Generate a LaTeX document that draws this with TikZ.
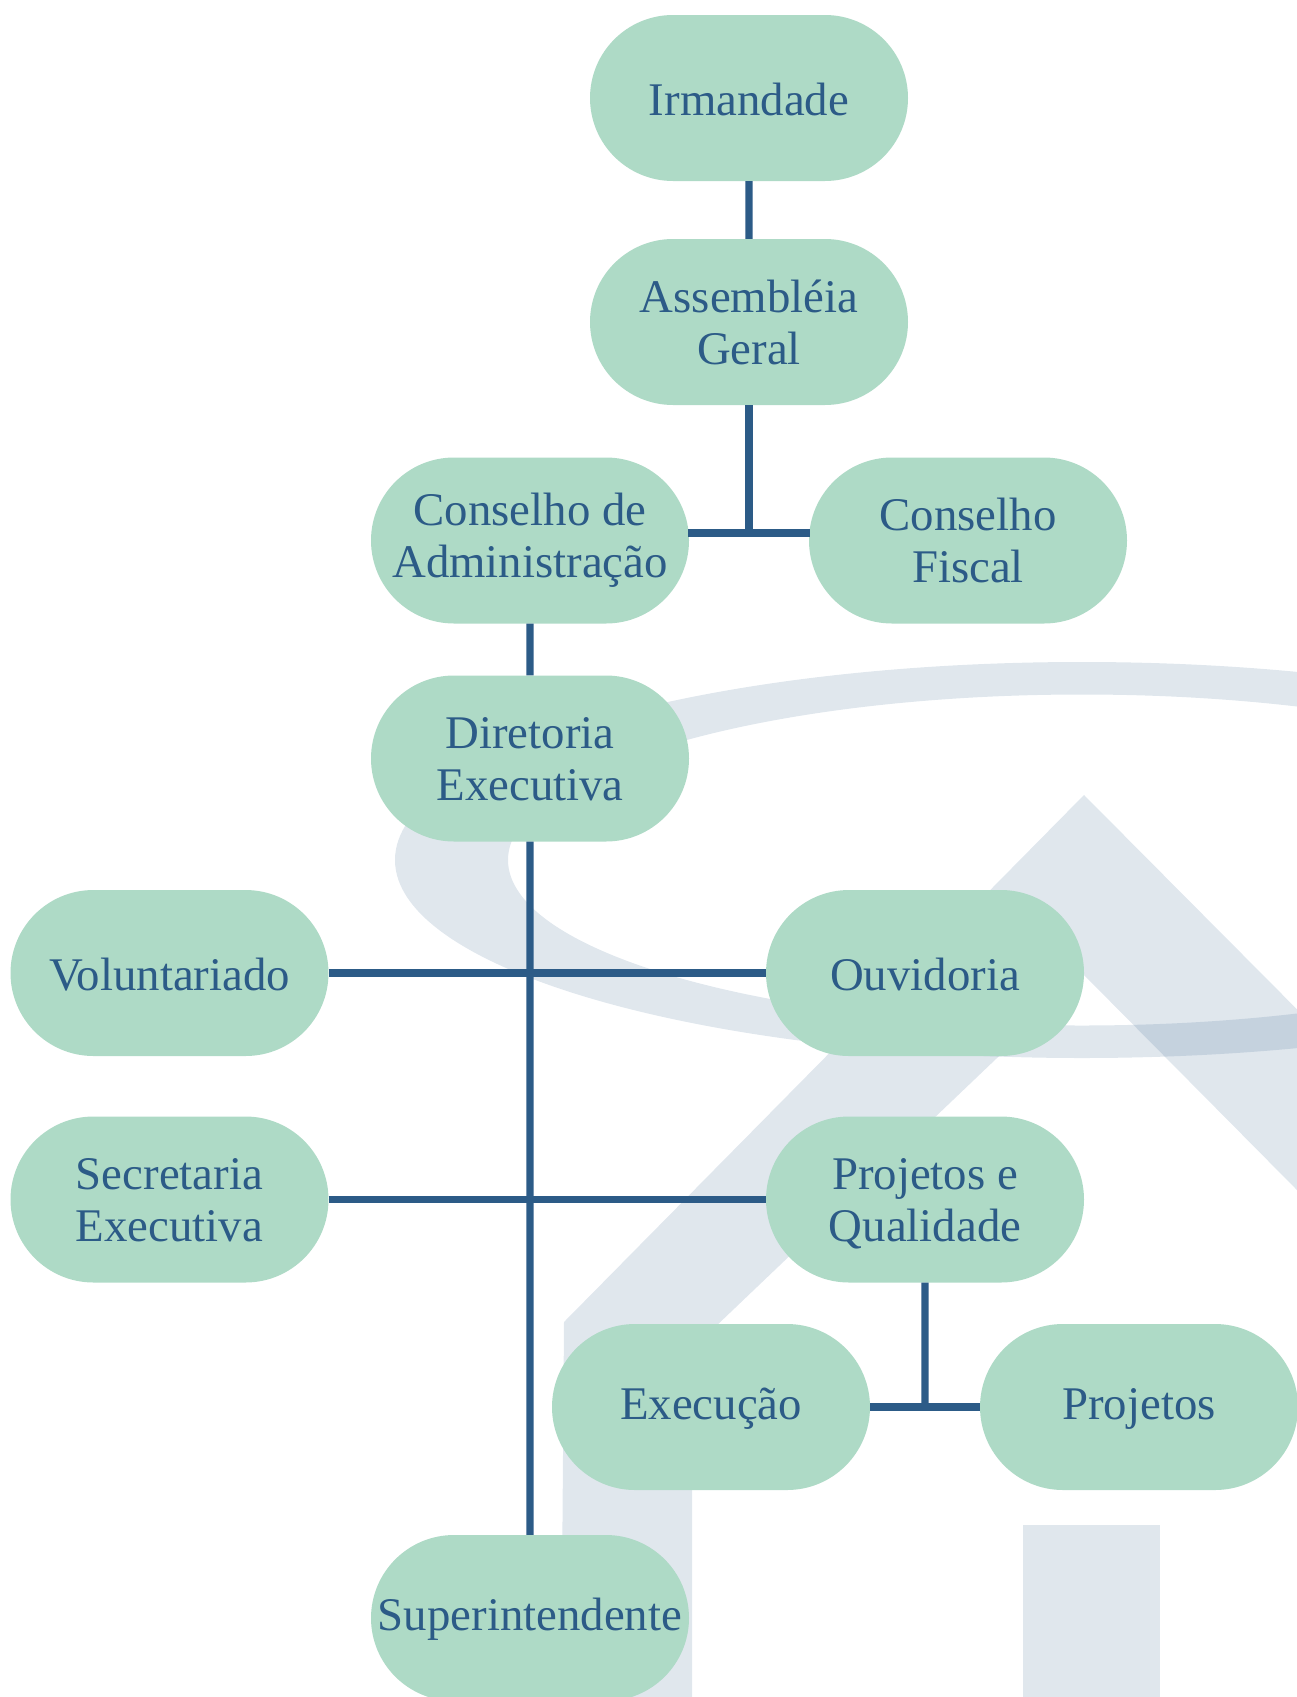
\documentclass[tikz,border=0pt]{standalone}
\usepackage{fontspec}
\setmainfont{Liberation Serif}
\usetikzlibrary{positioning,shapes.misc}
\definecolor{azul}{HTML}{2C5B87}
\definecolor{verde}{HTML}{AEDAC6}

\begin{document}
\begin{tikzpicture}[x=1pt,y=1pt,node distance=224pt,
    caixa/.style={rounded rectangle,fill=verde,text=azul,align=center,inner sep=0pt,
        minimum width=318pt,minimum height=166pt,font=\fontsize{46.8}{52}\selectfont,
        execute at begin node={\rule{0pt}{35pt}}},
    marca/.style={fill=azul,fill opacity=0.15},
    liga/.style={draw=azul,line width=7.3pt}]
            \useasboundingbox (0,0) rectangle (1297,-1697);
            \clip (0,0) rectangle (1297,-1697);

            % marca d'agua
            \fill[marca,even odd rule] (1082,-860) ellipse [x radius=687,y radius=198]
                (1082,-860) ellipse [x radius=574,y radius=165.5];
            \fill[marca] (1084,-795) -- (564,-1322) -- (561,-1720) -- (692,-1720) -- (692,-1349)
                -- (1084,-975) -- (1400,-1294) -- (1400,-1113) -- cycle;
            \fill[marca] (1023,-1525) rectangle (1160,-1720);

            \node[caixa] (irm) at (749,-98) {Irmandade};
            \node[caixa] (asm) [below of=irm] {Assembléia\\Geral};
            \node[caixa] (cadm) [below of=asm,xshift=-219pt,yshift=5.5pt] {Conselho de\\Administração};
            \node[caixa] (cfis) [right of=cadm,xshift=214pt] {Conselho\\Fiscal};
            \node[caixa,text depth=-2pt] (dir) [below of=cadm,yshift=6pt] {Diretoria\\Executiva};
            \node[caixa] (ouv) [below of=dir,xshift=395pt,yshift=9.5pt] {Ouvidoria};
            \node[caixa] (vol) [left of=ouv,xshift=-531.5pt] {Voluntariado};
            \node[caixa,text depth=0pt] (pqu) [below of=ouv,yshift=-2.5pt] {Projetos e\\Qualidade};
            \node[caixa,text depth=-2pt] (sec) [left of=pqu,xshift=-531.5pt] {Secretaria\\Executiva};
            \node[caixa] (exe) [below of=pqu,xshift=-214pt,yshift=16.5pt] {Execução};
            \node[caixa] (prj) [right of=exe,xshift=204pt] {Projetos};
            \node[caixa] (sup) [below of=exe,xshift=-181pt,yshift=13pt] {Superintendente};

            \coordinate[yshift=7.5pt] (jcon) at (asm |- cadm);
            \coordinate (jexe) at (pqu |- exe);

            \path[liga]
            (irm) edge (asm)
            (asm) edge (jcon)
            (jcon -| cadm.east) edge[shorten <=-1pt,shorten >=-1pt] (jcon -| cfis.west)
            (cadm) edge (dir)
            (dir) edge (sup)
            (vol) edge (ouv)
            (sec) edge (pqu)
            (pqu) edge (jexe)
            (exe) edge (prj);
\end{tikzpicture}
\end{document}
